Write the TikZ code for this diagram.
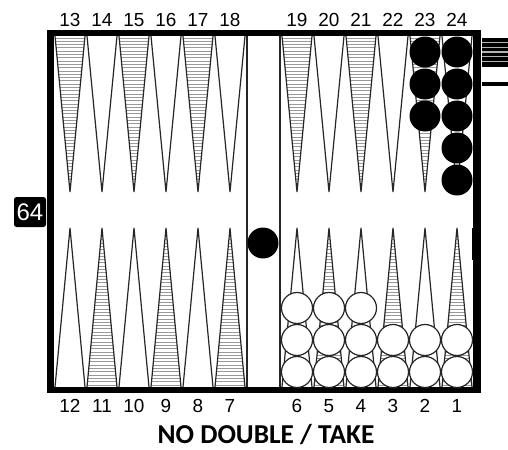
\documentclass[tikz,border=0pt]{standalone}
\usepackage{fontspec}
\setmainfont{Liberation Sans}
\newfontfamily\titlefont{Carlito}
\begin{document}
\begin{tikzpicture}[x=0.75pt,y=-0.75pt,
  hatch/.style={draw=gray!80,line width=0.75pt},
  ptedge/.style={draw=black!85,line width=0.9pt,line join=miter},
  blackchk/.style={fill=black},
  whitechk/.style={fill=white,draw=black!85,line width=0.9pt},
  lbl/.style={font=\fontsize{14.2}{16}\selectfont,inner sep=0pt},
  frame/.style={fill=black}]
\fill[white] (0,0) rectangle (508,450);
\useasboundingbox (0,0) rectangle (508,450);
% top points
\foreach \x [count=\n] in {54,86,118,150,182,214,281,313,345,377,409,441}{
  \ifodd\n
    \begin{scope}
      \clip (\x+1,36) -- (\x+16,192) -- (\x+31,36) -- cycle;
      \foreach \yy in {38,41.3,...,194} \draw[hatch] (\x,\yy) -- (\x+32,\yy);
    \end{scope}
  \fi
  \draw[ptedge] (\x+1,36) -- (\x+16,192) -- (\x+31,36);
}
% bottom points
\foreach \x [count=\n] in {54,86,118,150,182,214,281,313,345,377,409,441}{
  \ifodd\n\else
    \begin{scope}
      \clip (\x+1,387) -- (\x+16,228) -- (\x+31,387) -- cycle;
      \foreach \yy in {385,381.7,...,226} \draw[hatch] (\x,\yy) -- (\x+32,\yy);
    \end{scope}
  \fi
  \draw[ptedge] (\x+1,387) -- (\x+16,228) -- (\x+31,387);
}
% bar lines
\draw[black!85,line width=1pt] (247,36) -- (247,387);
\draw[black!85,line width=1pt] (280,36) -- (280,387);
% frame
\fill[frame] (47,30) rectangle (481,36);
\fill[frame] (47,387) rectangle (481,393);
\fill[frame] (47,30) rectangle (54,393);
\fill[frame] (473,30) rectangle (481,393);
\fill[frame] (472,228) rectangle (481,260);
% tray stripes
\fill[black] (482,37.5) rectangle (508,66.5);
\foreach \yy in {42.3,47.2,52.0,56.8,61.7} \draw[gray!60,line width=0.8pt] (482,\yy) -- (508,\yy);
\fill[black] (482,82) rectangle (508,86);
% checkers
\foreach \cy in {52,84,116} \fill[blackchk] (425,\cy) circle[radius=15.5];
\foreach \cy in {52,84,116,148,180} \fill[blackchk] (457,\cy) circle[radius=15.5];
\fill[blackchk] (263,243) circle[radius=15.5];
\foreach \cx in {297,329,361} \foreach \cy in {308,340,372} \draw[whitechk] (\cx,\cy) circle[radius=15.5];
\foreach \cx in {393,425,457} \foreach \cy in {340,372} \draw[whitechk] (\cx,\cy) circle[radius=15.5];
% cube
\node[fill=black,rounded corners=2pt,minimum width=24pt,minimum height=22.5pt,inner sep=0pt,text=white,font=\fontsize{18}{20}\selectfont] (cube) at (30,212) {64};
% labels
\foreach \x [count=\n] in {70,102,134,166,198,230,297,329,361,393,425,457}{
  \pgfmathtruncatemacro\t{12+\n}
  \node[lbl] (t\t) at (\x,20) {\t};
}
\foreach \x [count=\n] in {70,102,134,166,198,230,297,329,361,393,425,457}{
  \pgfmathtruncatemacro\b{13-\n}
  \node[lbl] (b\b) at (\x,406) {\b};
}
\node[font=\titlefont\bfseries\fontsize{20.5}{22}\selectfont,inner sep=0pt,anchor=base,text depth=0pt] (title) at (266,443) {NO DOUBLE / TAKE};
\end{tikzpicture}
\end{document}
